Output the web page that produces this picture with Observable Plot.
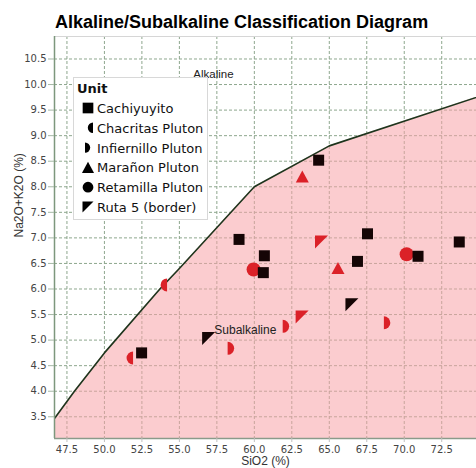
<!DOCTYPE html>
<html><head><meta charset="utf-8">
<script src="https://cdn.jsdelivr.net/npm/d3@7"></script>
<script src="https://cdn.jsdelivr.net/npm/@observablehq/plot@0.6"></script>
<style>
body{margin:0;background:#fff;}
#wrap{position:relative;width:476px;height:468px;overflow:hidden;}
#title{position:absolute;left:55px;top:11px;font:bold 18px "Liberation Sans",Arial,sans-serif;line-height:22px;white-space:nowrap;color:#000;}
#legend{position:absolute;left:73px;top:77px;}
</style></head><body>
<div id="wrap"><div id="chart"></div><div id="title">Alkaline/Subalkaline Classification Diagram</div><svg id="legend" width="135" height="143"></svg></div>
<script>
// ---- data ----
const unitNames = ["Cachiyuyito","Chacritas Pluton","Infiernillo Pluton","Marañon Pluton","Retamilla Pluton","Ruta 5 (border)"];

const cachiyuyitoSiO2 = [64.29, 58.98, 60.67, 60.6, 67.55, 73.67, 70.92, 66.88, 52.48];
const cachiyuyitoAlk  = [8.52, 6.97, 6.65, 6.32, 7.08, 6.92, 6.64, 6.54, 4.75];
const chacritasSiO2 = [54.18, 51.91];
const chacritasAlk  = [6.08, 4.65];
const infiernilloSiO2 = [68.64, 61.89, 58.22];
const infiernilloAlk  = [5.34, 5.27, 4.84];
const maranonSiO2 = [63.2, 65.58];
const maranonAlk  = [8.2, 6.41];
const retamillaSiO2 = [70.16, 59.95];
const retamillaAlk  = [6.68, 6.38];
const ruta5SiO2 = [64.48, 63.19, 66.51, 56.95];
const ruta5Alk  = [6.92, 5.45, 5.69, 5.03];
const ruta5Group = ["red","red","dark","dark"];

// Irvine & Baragar (1971) alkaline/subalkaline boundary
const boundarySiO2 = [39.2, 40, 43.2, 45, 48, 50, 53.7, 55, 60, 65, 77.4];
const boundaryAlk  = [0, 0.4, 2, 2.8, 4, 4.75, 6, 6.4, 8, 8.8, 10];

const xTicks = [47.5, 50, 52.5, 55, 57.5, 60, 62.5, 65, 67.5, 70, 72.5];
const yTicks = [3.5, 4, 4.5, 5, 5.5, 6, 6.5, 7, 7.5, 8, 8.5, 9, 9.5, 10, 10.5];
const xDomain = [46.67, 74.82];
const yDomain = [3.075, 10.94];

const regionLabels = [
  {text: "Alkaline", x: 55.93, y: 10.20, size: 11.5},
  {text: "Subalkaline", x: 57.33, y: 5.20, size: 12}
];

// ---- styles ----
const RED = "#db2128", DARK = "#150505";
const colorOf = g => g === "red" ? RED : DARK;

const k0 = s => Math.sqrt(s / Math.PI) / 6;
const symSquare = {draw(c, s){const h = 5.5*k0(s); c.rect(-h,-h,2*h,2*h);}};
const symHalfL = {draw(c, s){const r = 6.5*k0(s); c.moveTo(0,-r); c.arc(0,0,r,-Math.PI/2,Math.PI/2,true); c.closePath();}};
const symHalfR = {draw(c, s){const r = 6.5*k0(s); c.moveTo(0,-r); c.arc(0,0,r,-Math.PI/2,Math.PI/2,false); c.closePath();}};
const symTri = {draw(c, s){const k = k0(s); c.moveTo(0,-6*k); c.lineTo(6.5*k,6*k); c.lineTo(-6.5*k,6*k); c.closePath();}};
const symCircle = {draw(c, s){const r = 7*k0(s); c.moveTo(r,0); c.arc(0,0,r,0,2*Math.PI); c.closePath();}};
const symCorner = {draw(c, s){const h = 6.5*k0(s); c.moveTo(-h,-h); c.lineTo(h,-h); c.lineTo(-h,h); c.closePath();}};

const zip = (xs, ys, gs) => xs.map((x, i) => ({x, y: ys[i], g: gs ? gs[i] : null}));
const boundary = zip(boundarySiO2, boundaryAlk);

const dotMark = (data, symbol, fill) => Plot.dot(data, {x: "x", y: "y", r: 6, symbol, fill, stroke: "none"});

const chart = Plot.plot({
  width: 476, height: 468,
  marginLeft: 54, marginRight: 0, marginTop: 36, marginBottom: 30,
  style: {fontFamily: "DejaVu Sans", fontSize: "10px", background: "transparent"},
  x: {domain: xDomain},
  y: {domain: yDomain},
  color: {type: "identity"},
  marks: [
    Plot.gridX(xTicks, {stroke: "#8ea78e", strokeOpacity: 1, strokeWidth: 1, strokeDasharray: "3,2"}),
    Plot.gridY(yTicks, {stroke: "#8ea78e", strokeOpacity: 1, strokeWidth: 1, strokeDasharray: "3,2"}),
    Plot.areaY(boundary, {x: "x", y1: 0, y2: "y", fill: "#f7a3a7", fillOpacity: 0.55, clip: true}),
    Plot.line(boundary, {x: "x", y: "y", stroke: "#1d351d", strokeWidth: 1.6, clip: true}),
    Plot.frame({stroke: "#d6d6d6"}),
    Plot.ruleX([xDomain[0]], {stroke: "#7d977d", strokeWidth: 1.5}),
    Plot.ruleY([yDomain[0]], {stroke: "#8a9a8a", strokeWidth: 1.5}),
    Plot.axisY({ticks: yTicks, tickFormat: ".1f", tickSize: 6, tickPadding: 2, stroke: "#a5b8a5", fill: "#444", label: null}),
    Plot.axisX({ticks: xTicks, tickFormat: ".1f", tickSize: 4, tickPadding: 3, stroke: "#c0c0c0", fill: "#444", label: null}),
    Plot.text(["SiO2 (%)"], {frameAnchor: "bottom", dy: 23, lineAnchor: "middle", fontFamily: "Liberation Sans", fontSize: 12, fill: "#333"}),
    Plot.text(["Na2O+K2O (%)"], {frameAnchor: "left", dx: -35, rotate: -90, lineAnchor: "middle", fontFamily: "Liberation Sans", fontSize: 12, fill: "#333"}),
    Plot.text(regionLabels, {x: "x", y: "y", text: "text", textAnchor: "start", lineAnchor: "middle", fontFamily: "Liberation Sans", fontSize: d => d.size, fill: "#222"}),
    dotMark(zip(maranonSiO2, maranonAlk), symTri, RED),
    dotMark(zip(retamillaSiO2, retamillaAlk), symCircle, RED),
    dotMark(zip(chacritasSiO2, chacritasAlk), symHalfL, RED),
    dotMark(zip(infiernilloSiO2, infiernilloAlk), symHalfR, RED),
    Plot.dot(zip(ruta5SiO2, ruta5Alk, ruta5Group), {x: "x", y: "y", r: 6, symbol: symCorner, fill: d => colorOf(d.g), stroke: "none"}),
    dotMark(zip(cachiyuyitoSiO2, cachiyuyitoAlk), symSquare, DARK)
  ]
});
document.getElementById("chart").appendChild(chart);

// ---- legend ----
const leg = d3.select("#legend");
leg.append("rect").attr("x", 0.5).attr("y", 0.5).attr("width", 134).attr("height", 142)
  .attr("fill", "#fff").attr("stroke", "#d8d8d8");
leg.append("text").attr("x", 4).attr("y", 16).text("Unit")
  .attr("font-family", "DejaVu Sans").attr("font-size", 13).attr("font-weight", "bold").attr("fill", "#111");
const legSyms = [
  {sym: symSquare, k: 0.97, dx: 15},
  {sym: symHalfL, k: 0.8, dx: 20},
  {sym: symHalfR, k: 0.8, dx: 12},
  {sym: symTri, k: 0.93, dx: 15},
  {sym: symCircle, k: 0.77, dx: 15},
  {sym: symCorner, k: 0.85, dx: 15}
];
unitNames.forEach((name, i) => {
  const base = 36 + i * 19.8;
  const p = d3.path();
  legSyms[i].sym.draw(p, Math.PI * Math.pow(6 * legSyms[i].k, 2));
  leg.append("path").attr("d", p.toString())
    .attr("transform", `translate(${legSyms[i].dx},${base - 5})`).attr("fill", "#000");
  leg.append("text").attr("x", 24).attr("y", base).text(name)
    .attr("font-family", "DejaVu Sans").attr("font-size", 13).attr("fill", "#111");
});
</script>
</body></html>
